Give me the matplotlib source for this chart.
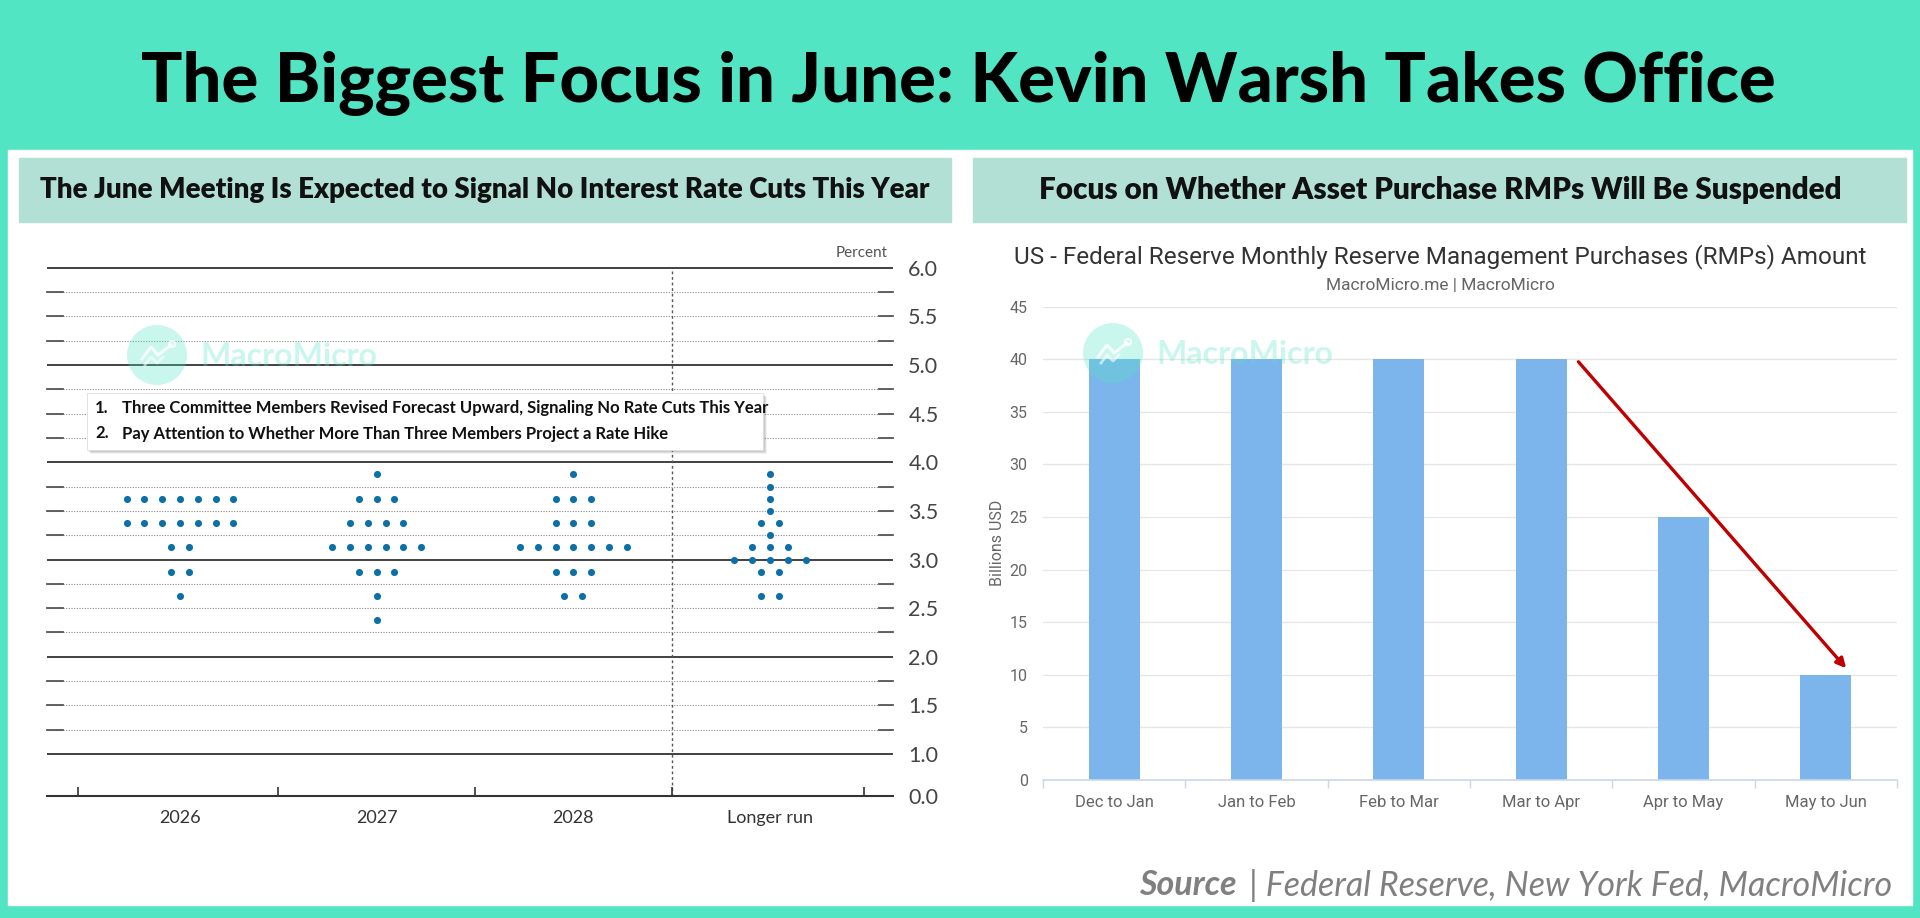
import numpy as np
import matplotlib
matplotlib.use("Agg")
import matplotlib.pyplot as plt
from matplotlib.patches import Rectangle, Circle

# ---- data -------------------------------------------------------------
years = ["2026", "2027", "2028", "Longer run"]

# dot plot: rate level and number of participants at that level
rates_2026 = [3.625, 3.375, 3.125, 2.875, 2.625]
count_2026 = [7, 7, 2, 2, 1]
rates_2027 = [3.875, 3.625, 3.375, 3.125, 2.875, 2.625, 2.375]
count_2027 = [1, 3, 4, 6, 3, 1, 1]
rates_2028 = [3.875, 3.625, 3.375, 3.125, 2.875, 2.625]
count_2028 = [1, 3, 3, 7, 3, 2]
rates_lr = [3.875, 3.75, 3.625, 3.5, 3.375, 3.25, 3.125, 3.0, 2.875, 2.625]
count_lr = [1, 1, 1, 1, 2, 1, 3, 5, 2, 2]

ytick_vals = [1.0, 1.5, 2.0, 2.5, 3.0, 3.5, 4.0, 4.5, 5.0, 5.5, 6.0]

rmp_months = ["Dec to Jan", "Jan to Feb", "Feb to Mar", "Mar to Apr", "Apr to May", "May to Jun"]
rmp_values = [40, 40, 40, 40, 25, 10]

# ---- layout helpers (pixel coords of a 1920x918 canvas) ---------------
W, H = 1920, 918
TEAL = "#52E5C4"
BOX = "#B3E0D5"


def px_axes(fig, left, top, right, bottom, **kw):
    return fig.add_axes([left / W, 1 - bottom / H, (right - left) / W, (bottom - top) / H], **kw)


fig = plt.figure(figsize=(W / 100, H / 100), dpi=100)
fig.patch.set_facecolor("white")

# background: teal frame, white panel, subtitle boxes
bg = px_axes(fig, 0, 0, W, H, zorder=0)
bg.set_xlim(0, W)
bg.set_ylim(H, 0)
bg.axis("off")
bg.add_patch(Rectangle((0, 0), W, H, color=TEAL))
bg.add_patch(Rectangle((8, 150), 1904, 755, color="white"))
bg.add_patch(Rectangle((19, 158), 932, 64, color=BOX))
bg.add_patch(Rectangle((973, 158), 933, 64, color=BOX))

bg.text(958, 83, "The Biggest Focus in June: Kevin Warsh Takes Office", ha="center", va="center",
        fontsize=49.5, fontweight="black", family="Lato", color="black")
bg.text(485, 190, "The June Meeting Is Expected to Signal No Interest Rate Cuts This Year", ha="center",
        va="center", fontsize=19.9, fontweight="heavy", family="Lato", color="#111111")
bg.text(1440, 190, "Focus on Whether Asset Purchase RMPs Will Be Suspended", ha="center",
        va="center", fontsize=21.3, fontweight="heavy", family="Lato", color="#111111")

# ---- left: dot plot ---------------------------------------------------
ax1 = px_axes(fig, 47, 263, 893, 796, zorder=2)
ax1.set_facecolor("none")
y_bottom = 1.0 - 42 / 97.2   # broken axis: 0.0 drawn just below 1.0
x_left, x_right = -0.676, 3.625
ax1.set_xlim(x_left, x_right)
ax1.set_ylim(y_bottom, 6.05)

for v in np.arange(1.25, 6.0, 0.25):
    if v % 1 == 0:
        continue
    ax1.axhline(v, color="#8a8a8a", lw=0.8, ls=(0, (1, 1.4)), zorder=1)
    ax1.plot([x_left, x_left + 0.08], [v, v], color="#555555", lw=1.3, zorder=2, clip_on=False)
    ax1.plot([x_right - 0.072, x_right], [v, v], color="#555555", lw=1.3, zorder=2, clip_on=False)
for v in range(1, 7):
    ax1.axhline(v, color="#333333", lw=1.3, zorder=1)

# separator between projections and longer run
ax1.axvline(2.5, ymax=(6.0 - y_bottom) / (6.05 - y_bottom), color="#555555", lw=1.0, ls=(0, (2, 2)), zorder=1)

groups = [(rates_2026, count_2026), (rates_2027, count_2027), (rates_2028, count_2028), (rates_lr, count_lr)]
for i, (rates, counts) in enumerate(groups):
    for r, n in zip(rates, counts):
        xs = i + (np.arange(n) - (n - 1) / 2) * 0.0905
        ax1.scatter(xs, [r] * n, s=26, color="#0B6FAA", linewidths=0, zorder=3)

for s in ["top", "left", "right"]:
    ax1.spines[s].set_visible(False)
ax1.spines["bottom"].set_color("#333333")
ax1.spines["bottom"].set_linewidth(1.5)

ax1.set_xticks([-0.52, 0.5, 1.5, 2.5, 3.48])
ax1.set_xticklabels([])
ax1.tick_params(axis="x", which="major", direction="in", length=6.5, width=1.2, color="#333333")
ax1.set_xticks(range(len(years)), minor=True)
ax1.set_xticklabels(years, minor=True, fontsize=13, family="Lato", color="#333333")
ax1.tick_params(axis="x", which="minor", length=0, pad=10)

ax1.yaxis.tick_right()
ax1.set_yticks([y_bottom] + ytick_vals)
ax1.set_yticklabels(["0.0"] + ["%.1f" % v for v in ytick_vals], fontsize=15.5, family="Lato", color="#444444")
ax1.tick_params(axis="y", length=0, pad=11)

bg.text(888, 253, "Percent", ha="right", va="center", fontsize=11, family="Lato", color="#555555")

# ---- right: RMP bar chart --------------------------------------------
ax2 = px_axes(fig, 1043, 306.7, 1897, 780, zorder=2)
ax2.set_facecolor("none")
x = np.arange(len(rmp_months))
ax2.bar(x, rmp_values, width=0.36, color="#7CB5EC", zorder=2)
ax2.set_xlim(-0.5, len(rmp_months) - 0.5)
ax2.set_ylim(0, 45)
ax2.set_yticks(range(0, 46, 5))
ax2.yaxis.grid(color="#e6e6e6", lw=1)
ax2.set_axisbelow(True)
for s in ["top", "left", "right"]:
    ax2.spines[s].set_visible(False)
ax2.spines["bottom"].set_color("#ccd6eb")
ax2.spines["bottom"].set_linewidth(1.2)
ax2.tick_params(axis="y", length=0, pad=11, labelsize=11.5, labelcolor="#666666")
ax2.set_xticks(x)
ax2.set_xticklabels(rmp_months)
ax2.tick_params(axis="x", which="major", length=0, pad=11, labelsize=12, labelcolor="#666666")
ax2.set_xticks(np.arange(-0.5, len(rmp_months)), minor=True)
ax2.tick_params(axis="x", which="minor", length=6, width=1, color="#ccd6eb", direction="out")
for lab in ax2.get_xticklabels() + ax2.get_yticklabels():
    lab.set_family("Roboto")

ax2.annotate("", xy=(5.143, 10.62), xytext=(3.262, 39.76),
             arrowprops=dict(arrowstyle="-|>", color="#C00000", lw=2.4, mutation_scale=14,
                             shrinkA=0, shrinkB=0), annotation_clip=False, zorder=4)

bg.text(1440, 257, "US - Federal Reserve Monthly Reserve Management Purchases (RMPs) Amount",
        ha="center", va="center", fontsize=17.5, family="Roboto", color="#333333")
bg.text(1440, 285, "MacroMicro.me | MacroMicro", ha="center", va="center", fontsize=12.5,
        family="Roboto", color="#666666")
bg.text(997, 543, "Billions USD", ha="center", va="center", rotation=90, fontsize=11.5,
        family="Roboto", color="#666666")

# ---- overlay: annotation box, watermarks, source -----------------------
ov = px_axes(fig, 0, 0, W, H, zorder=10)
ov.set_xlim(0, W)
ov.set_ylim(H, 0)
ov.axis("off")
ov.patch.set_alpha(0)

for off, a in [(4, 0.10), (3, 0.15), (2, 0.2)]:
    ov.add_patch(Rectangle((87 + off, 393 + off), 676, 57, color="#777777", alpha=a, lw=0))
ov.add_patch(Rectangle((87, 393), 676, 57, facecolor="white", edgecolor="#dddddd", lw=0.6))
notes = ["Three Committee Members Revised Forecast Upward, Signaling No Rate Cuts This Year",
         "Pay Attention to Whether More Than Three Members Project a Rate Hike"]
for k, note in enumerate(notes):
    yy = 408 + k * 25.5
    ov.text(95, yy, "%d." % (k + 1), ha="left", va="center", fontsize=12, fontweight="bold",
            family="Lato", color="#111111")
    ov.text(122, yy, note, ha="left", va="center", fontsize=12, fontweight="bold",
            family="Lato", color="#111111")


def watermark(cx, cy):
    ov.add_patch(Circle((cx, cy), 30, color=TEAL, alpha=0.3, lw=0))
    ov.plot(cx + np.array([-15, -6, 1, 9, 14]), cy + np.array([4, -8, 0, -6, -10]),
            color="white", lw=2.2, alpha=0.8)
    ov.plot(cx + np.array([-12, -6, 0, 6]), cy + np.array([10, 2, 8, 2]),
            color="white", lw=2.0, alpha=0.6)
    ov.add_patch(Circle((cx + 15, cy - 11), 3, facecolor="none", edgecolor="white", lw=1.6, alpha=0.8))
    ov.text(cx + 43, cy + 1, "MacroMicro", ha="left", va="center", fontsize=23, fontweight="bold",
            family="Lato", color=TEAL, alpha=0.3)


watermark(157, 355)
watermark(1113, 353)

ov.text(1139, 885, "Source", ha="left", va="center", fontsize=24.5, fontweight="bold",
        style="italic", family="Lato", color="#808080")
ov.text(1892, 885, "| Federal Reserve, New York Fed, MacroMicro", ha="right", va="center",
        fontsize=24.5, style="italic", family="Lato", color="#808080")

fig.savefig("out.png", dpi=100)
